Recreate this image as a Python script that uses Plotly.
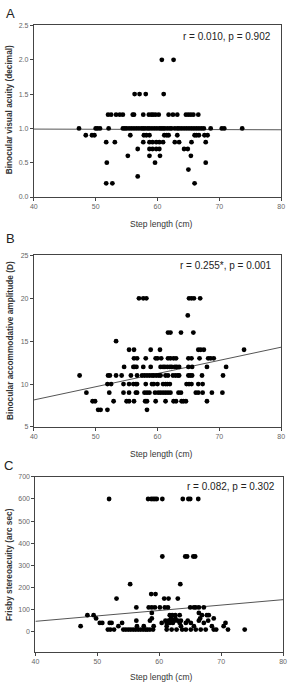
import plotly.graph_objects as go

# ---------------- data ----------------
# Panel A: binocular visual acuity (decimal) vs step length (cm)
a_rows = {
    2.0: [60.7, 62.6],
    1.5: [56.3, 57.1, 58.1, 61.0],
    1.2: [52.0, 52.5, 53.3, 53.9, 54.4, 56.0, 56.2, 57.7, 58.6, 59.0, 59.3, 59.7,
          60.2, 61.8, 62.5, 63.2, 64.6, 65.0, 65.4, 65.8, 66.6],
    1.0: [47.3, 50.0, 50.3, 50.7, 52.1, 54.4, 54.7, 55.0, 55.4, 55.8, 56.2, 56.6,
          57.0, 57.4, 57.7, 58.0, 58.4, 58.7, 59.1, 59.5, 59.9, 60.3, 60.6, 60.9,
          61.2, 61.6, 62.0, 62.3, 62.8, 63.2, 63.5, 63.9, 64.3, 64.7, 65.1, 65.5,
          65.9, 66.3, 66.7, 67.1, 67.5, 68.6, 70.4, 70.8, 73.7],
    0.9: [48.4, 49.4, 49.8, 55.6, 57.8, 58.2, 58.7, 61.1, 61.5, 61.8, 63.2, 66.0,
          66.3, 66.7, 67.6, 68.1],
    0.8: [51.7, 53.1, 57.7, 58.7, 59.2, 59.8, 60.3, 60.9, 62.8, 63.5, 65.5, 67.8],
    0.7: [56.8, 58.7, 59.2, 59.8, 60.3, 64.3, 64.9],
    0.6: [55.2, 58.7, 60.4, 65.4],
    0.5: [51.8, 59.6, 67.8],
    0.4: [65.0],
    0.3: [56.8],
    0.2: [51.7, 52.7, 66.0],
}
step_a = [x for v, xs in a_rows.items() for x in xs]
acuity = [v for v, xs in a_rows.items() for x in xs]

# Panel B: binocular accommodative amplitude (D)
b_rows = {
    20: [57.0, 57.7, 58.2, 65.1, 65.5, 65.9, 66.9],
    18: [64.9],
    16: [61.7, 62.1, 63.8, 65.8],
    15: [53.3],
    14: [55.4, 56.2, 58.9, 60.4, 66.6, 67.0, 67.5, 74.0],
    13: [56.2, 56.7, 58.1, 59.7, 60.0, 60.6, 61.7, 62.1, 62.6, 63.0, 65.0, 65.5,
         66.8, 68.2, 68.6, 69.1],
    12: [54.6, 56.1, 56.3, 56.6, 57.7, 58.9, 60.5, 60.9, 61.2, 61.6, 62.0, 62.3,
         62.8, 63.1, 63.5, 65.0, 65.6, 68.0, 71.1],
    11: [47.4, 52.0, 52.3, 53.3, 54.2, 55.7, 56.7, 57.5, 57.9, 58.3, 58.7, 59.1,
         59.4, 59.8, 60.2, 60.5, 61.3, 61.7, 62.5, 62.9, 63.3, 63.5, 65.0, 65.3,
         65.6, 67.2, 70.6],
    10: [51.9, 52.5, 54.5, 55.4, 56.1, 56.5, 56.7, 58.1, 59.1, 59.4, 60.0, 60.9,
         61.3, 61.6, 62.0, 64.7, 65.1, 65.5, 66.6, 67.3],
    9: [48.5, 52.2, 54.5, 55.4, 56.5, 56.7, 57.9, 58.3, 58.7, 59.6, 60.1, 60.5,
        60.9, 61.3, 61.7, 62.1, 63.4, 63.8, 66.2, 66.6, 67.3, 68.8, 70.5],
    8: [49.5, 49.9, 52.9, 55.0, 55.4, 56.2, 58.0, 58.3, 59.7, 61.3, 62.6, 63.0,
        63.9, 64.2, 64.6, 68.0],
    7: [50.4, 50.8, 51.9, 58.3],
}
step_b = [x for v, xs in b_rows.items() for x in xs]
accommodation = [v for v, xs in b_rows.items() for x in xs]

# Panel C: Frisby stereoacuity (arc sec)
c_rows = {
    600: [51.9, 58.2, 58.7, 59.0, 59.3, 59.6, 60.5, 63.8, 64.7, 65.0, 66.3],
    340: [60.5, 64.2, 64.5, 65.5, 65.8],
    215: [55.3, 63.4],
    170: [58.7, 59.4],
    150: [53.1, 60.8, 61.5, 63.0],
    110: [56.3, 58.3, 58.8, 59.3, 60.1, 60.9, 61.4, 65.0, 65.6, 65.9, 66.4, 67.2],
    85: [66.4, 58.8],
    75: [48.4, 49.4, 61.7, 62.1, 62.6, 63.3, 66.9, 67.7, 68.0],
    60: [49.8, 58.8, 61.9, 62.6, 66.6, 68.8],
    50: [56.3, 58.5, 61.0, 61.5, 62.0, 62.5, 63.0, 63.5, 64.6, 66.4, 67.9],
    40: [50.4, 50.8, 52.0, 52.3, 54.0, 60.4, 61.2, 61.7, 62.2, 63.3, 64.3, 65.1,
         67.2, 70.7],
    25: [47.3, 53.4, 56.4, 57.5, 59.1, 61.2, 63.5, 65.6, 68.5, 70.4],
    10: [51.7, 52.1, 52.7, 54.2, 54.6, 55.0, 55.4, 55.8, 56.2, 56.6, 57.0, 57.4,
         57.8, 58.1, 58.5, 59.0, 61.2, 62.0, 62.8, 63.7, 64.3, 65.1, 65.9, 66.7,
         67.5, 68.8, 69.2, 71.1, 73.8],
}
step_c = [x for v, xs in c_rows.items() for x in xs]
stereo = [v for v, xs in c_rows.items() for x in xs]

# regression lines (endpoints at x = 40 and 80)
fit_x = [40, 80]
fit_a = [0.99, 0.98]
fit_b = [8.15, 14.3]
fit_c = [47, 145]

stats = ["r = 0.010, p = 0.902", "r = 0.255*, p = 0.001", "r = 0.082, p = 0.302"]
ytitles = ["Binocular visual acuity (decimal)",
           "Binocular accommodative amplitude (D)",
           "Frisby stereoacuity (arc sec)"]
xtitle = "Step length (cm)"
letters = ["A", "B", "C"]

# ---------------- figure ----------------
W, H = 290, 689
FONT = "Liberation Sans, Arial, sans-serif"
fig = go.Figure()

panels = [
    dict(x=step_a, y=acuity, fit=fit_a, xd=(30.7, 285), yd=(21.7, 195),
         yr=[0, 2.5], tv=[0, 0.5, 1.0, 1.5, 2.0, 2.5], tf=".1f"),
    dict(x=step_b, y=accommodation, fit=fit_b, xd=(30.7, 285), yd=(254, 427.3),
         yr=[5, 25], tv=[5, 10, 15, 20, 25], tf="d"),
    dict(x=step_c, y=stereo, fit=fit_c, xd=(32.3, 287), yd=(477.7, 654.3),
         yr=[-90, 700], tv=[0, 100, 200, 300, 400, 500, 600, 700], tf="d"),
]

axis_common = dict(showline=True, linecolor="#444", linewidth=1, mirror=True,
                   ticks="outside", ticklen=3, tickcolor="#444", tickwidth=1,
                   showgrid=False, zeroline=False,
                   tickfont=dict(family=FONT, size=7, color="#666"))

for i, p in enumerate(panels):
    n = "" if i == 0 else str(i + 1)
    xa, ya = "x" + n, "y" + n
    fig.add_trace(go.Scatter(x=fit_x, y=p["fit"], mode="lines", xaxis=xa, yaxis=ya,
                             line=dict(color="#555", width=1), showlegend=False,
                             hoverinfo="skip"))
    fig.add_trace(go.Scatter(x=p["x"], y=p["y"], mode="markers", xaxis=xa, yaxis=ya,
                             marker=dict(symbol="circle", size=4.8, color="black",
                                         line=dict(width=0)),
                             showlegend=False))
    fig.layout["xaxis" + n] = dict(axis_common, domain=[p["xd"][0] / W, p["xd"][1] / W],
                                   range=[40, 80], tickvals=[40, 50, 60, 70, 80],
                                   anchor=ya)
    fig.layout["yaxis" + n] = dict(axis_common, domain=[1 - p["yd"][1] / H, 1 - p["yd"][0] / H],
                                   range=p["yr"], tickvals=p["tv"], tickformat=p["tf"],
                                   anchor=xa)

annotations = []
# stats text
for (txt, xr, yc) in zip(stats, [277, 278, 281], [33, 264, 487.7]):
    annotations.append(dict(text=txt, x=xr / W, y=1 - yc / H, xref="paper", yref="paper",
                            xanchor="right", yanchor="middle", showarrow=False,
                            font=dict(family=FONT, size=10, color="#222")))
# y titles
for (txt, xc, yc) in zip(ytitles, [5.5, 5.5, 5.0], [107, 340, 566]):
    annotations.append(dict(text="<b>" + txt + "</b>", x=xc / W, y=1 - yc / H,
                            xref="paper", yref="paper", xanchor="center", yanchor="middle",
                            textangle=-90, showarrow=False,
                            font=dict(family=FONT, size=8.3, color="#333")))
# x titles
for yc in [222, 454.3, 680]:
    annotations.append(dict(text=xtitle, x=161.7 / W, y=1 - yc / H, xref="paper",
                            yref="paper", xanchor="center", yanchor="middle",
                            showarrow=False, font=dict(family=FONT, size=8.5, color="#333")))
# panel letters
for (txt, xc, yc) in zip(letters, [7, 7, 5], [9.5, 236.5, 466]):
    annotations.append(dict(text=txt, x=xc / W, y=1 - yc / H, xref="paper", yref="paper",
                            xanchor="center", yanchor="middle", showarrow=False,
                            font=dict(family=FONT, size=13, color="#222")))

fig.update_layout(width=W, height=H, margin=dict(l=0, r=0, t=0, b=0),
                  paper_bgcolor="white", plot_bgcolor="white",
                  annotations=annotations, showlegend=False)

fig.write_html("out.html")
